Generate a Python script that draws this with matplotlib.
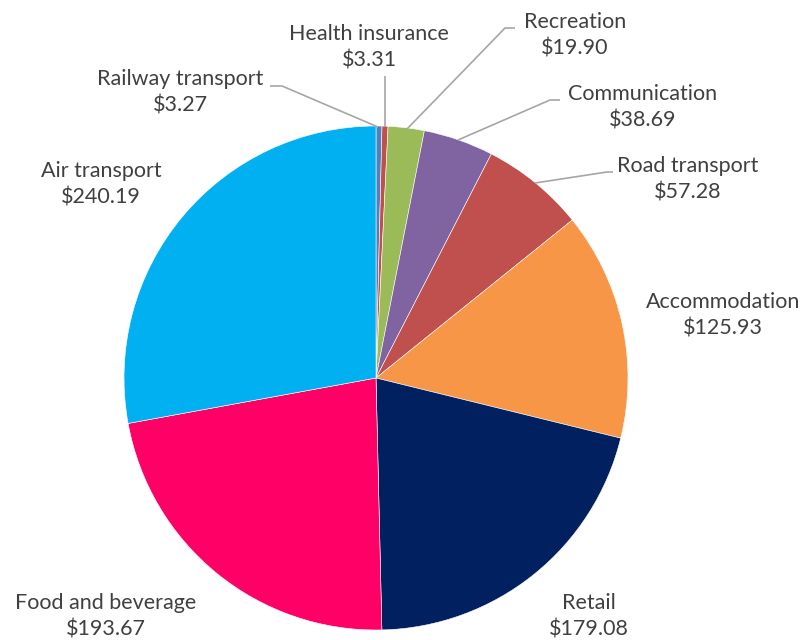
import matplotlib
matplotlib.use("Agg")
import matplotlib.pyplot as plt

# Spending by category (clockwise from 12 o'clock)
categories = ["Railway transport", "Health insurance", "Recreation", "Communication",
              "Road transport", "Accommodation", "Retail", "Food and beverage", "Air transport"]
values = [3.27, 3.31, 19.90, 38.69, 57.28, 125.93, 179.08, 193.67, 240.19]
colors = ["#4F81BD", "#C0504D", "#9BBB59", "#8064A2", "#C0504D",
          "#F79646", "#002060", "#FF0066", "#00B0F0"]

# Label placement in pixel space (x, y from top) and optional leader lines
label_pos = {
    "Railway transport": (180, 92),
    "Health insurance": (369, 47),
    "Recreation": (575, 35),
    "Communication": (643, 107),
    "Road transport": (688, 179),
    "Accommodation": (723, 315),
    "Retail": (589, 616),
    "Food and beverage": (106, 616),
    "Air transport": (101, 184),
}
leaders = {
    "Railway transport": [(378, 127), (282, 86), (270, 86)],
    "Health insurance": [(385, 127), (385, 76)],
    "Recreation": [(407, 129), (505, 28), (515, 28)],
    "Communication": [(458, 140), (550, 100), (560, 100)],
    "Road transport": [(535, 183), (607, 172), (613, 172)],
}

W, H = 807, 640
fig = plt.figure(figsize=(W / 100, H / 100), dpi=100)
ax = fig.add_axes([0, 0, 1, 1])

cx, cy, r = 376, H - 378, 252
ax.pie(values, colors=colors, startangle=90, counterclock=False,
       center=(cx, cy), radius=r, frame=True,
       wedgeprops=dict(edgecolor="white", linewidth=0.4))
ax.set_xlim(0, W)
ax.set_ylim(0, H)
ax.set_aspect("equal")
ax.axis("off")

for name, pts in leaders.items():
    xs = [p[0] for p in pts]
    ys = [H - p[1] for p in pts]
    ax.plot(xs, ys, color="#A6A6A6", linewidth=1.2, solid_capstyle="butt")

for name, val in zip(categories, values):
    x, y = label_pos[name]
    ax.text(x, H - y, f"{name}\n${val:.2f}", ha="center", va="center",
            fontsize=15.5, family="Lato", color="#404040", linespacing=1.4)

fig.savefig("out.png", dpi=100)
